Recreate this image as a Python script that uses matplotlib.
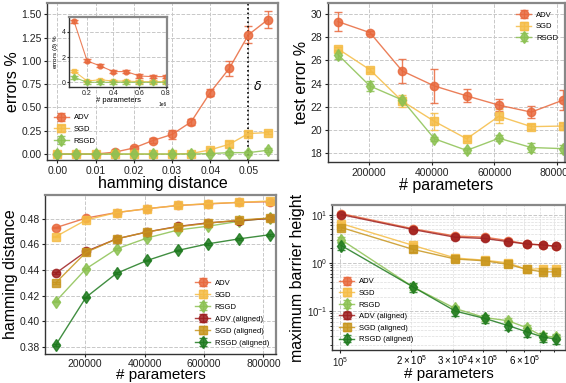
import numpy as np
import matplotlib
matplotlib.use("Agg")
import matplotlib.pyplot as plt

plt.rcParams['font.family'] = ['Liberation Sans', 'DejaVu Sans']

# --- data ---------------------------------------------------------------
hamming = [0.0, 0.005, 0.010, 0.015, 0.020, 0.025, 0.030, 0.035, 0.040, 0.045, 0.050, 0.055]
delta_x = 0.050

err_adv = [0, 0, 0, 0.02, 0.065, 0.145, 0.21, 0.345, 0.66, 0.92, 1.28, 1.44]
err_adv_sd = [0.01, 0.01, 0.01, 0.02, 0.02, 0.03, 0.05, 0.03, 0.04, 0.08, 0.09, 0.09]
err_sgd = [0, 0, 0, 0, 0, 0, 0, 0.005, 0.045, 0.105, 0.22, 0.23]
err_sgd_sd = [0.01, 0.01, 0.01, 0.01, 0.01, 0.01, 0.01, 0.01, 0.02, 0.03, 0.03, 0.02]
err_rsgd = [0, 0, 0, 0, 0, 0, 0, 0, 0.005, 0.015, 0.015, 0.04]
err_rsgd_sd = [0.01, 0.01, 0.01, 0.01, 0.01, 0.01, 0.01, 0.01, 0.01, 0.02, 0.02, 0.02]

# inset: errors at delta vs # parameters (x 1e6)
inset_params = [0.1, 0.2, 0.3, 0.4, 0.5, 0.6, 0.7, 0.8]
inset_adv = [4.85, 1.7, 1.3, 0.85, 0.85, 0.5, 0.45, 0.45]
inset_sgd = [0.9, 0.1, 0.2, 0.1, 0.1, 0.05, 0.05, 0.05]
inset_rsgd = [0.4, 0.0, 0.0, 0.0, 0.0, 0.0, 0.0, 0.0]

params = [101000, 203000, 306000, 409000, 512000, 615000, 718000, 821000]

test_adv = [29.35, 28.4, 25.1, 23.8, 22.95, 22.15, 21.55, 22.6]
test_adv_sd = [0.85, 0.1, 1.05, 1.5, 0.55, 0.5, 0.5, 0.85]
test_sgd = [27.0, 25.2, 22.5, 20.75, 19.25, 21.2, 20.3, 20.35]
test_sgd_sd = [0.2, 0.15, 0.5, 0.7, 0.2, 0.6, 0.2, 0.3]
test_rsgd = [26.5, 23.8, 22.6, 19.25, 18.25, 19.3, 18.5, 18.4]
test_rsgd_sd = [0.4, 0.45, 0.25, 0.15, 0.25, 0.25, 0.4, 0.35]

ham_adv = [0.473, 0.4805, 0.4848, 0.4878, 0.4903, 0.4915, 0.4927, 0.4932]
ham_sgd = [0.466, 0.4790, 0.4848, 0.4878, 0.4903, 0.4918, 0.4927, 0.4938]
ham_rsgd = [0.4155, 0.441, 0.4565, 0.465, 0.4712, 0.4742, 0.478, 0.4805]
ham_adv_al = [0.4375, 0.4545, 0.4643, 0.4697, 0.474, 0.4768, 0.4785, 0.4802]
ham_sgd_al = [0.430, 0.4538, 0.4643, 0.4697, 0.4737, 0.4765, 0.479, 0.4805]
ham_rsgd_al = [0.3815, 0.4188, 0.4375, 0.4475, 0.4553, 0.4605, 0.4643, 0.4675]

bar_adv = [10.5, 5.1, 3.6, 3.4, 2.9, 2.45, 2.35, 2.2]
bar_sgd = [6.5, 2.3, 1.26, 1.13, 1.0, 0.73, 0.76, 0.73]
bar_rsgd = [3.0, 0.316, 0.113, 0.073, 0.063, 0.045, 0.030, 0.029]
bar_adv_al = [10.0, 4.9, 3.4, 3.2, 2.75, 2.45, 2.35, 2.2]
bar_sgd_al = [5.4, 1.9, 1.2, 1.1, 0.93, 0.73, 0.65, 0.65]
bar_rsgd_al = [2.28, 0.316, 0.10, 0.07, 0.05, 0.037, 0.029, 0.026]

C_ADV, C_SGD, C_RSGD = '#E8693D', '#F5BC45', '#8CC152'
C_ADV_AL, C_SGD_AL, C_RSGD_AL = '#9E1F1F', '#C8961E', '#1F7A1F'


def style_axes(ax, minor=False):
    ax.grid(True, which='major', linestyle='--', color='#c8c8c8', linewidth=0.7)
    if minor:
        ax.grid(True, which='minor', linestyle='--', color='#dddddd', linewidth=0.5)
    for side in ['left', 'bottom']:
        ax.spines[side].set_color('#333333')
        ax.spines[side].set_linewidth(1.0)
    for side in ['top', 'right']:
        ax.spines[side].set_color('#888888')
        ax.spines[side].set_linewidth(1.6)
    ax.tick_params(labelsize=7.5, length=2.5, width=0.8, pad=1.5, colors='#222222')
    ax.set_axisbelow(True)


def eplot(ax, x, y, yerr, color, marker, label, ms=6, lw=1.0, alpha=0.85):
    ax.errorbar(x, y, yerr=yerr, color=color, marker=marker, markersize=ms,
                linewidth=lw, capsize=3, elinewidth=1.0, capthick=1.0,
                alpha=alpha, label=label)


LEG = dict(frameon=False, fontsize=5.5, handlelength=2.0, handletextpad=0.6)

fig = plt.figure(figsize=(5.66, 3.83), dpi=100)

# --- top left: errors vs hamming distance ---------------------------------
ax1 = fig.add_axes([0.083, 0.582, 0.408, 0.410])
eplot(ax1, hamming, err_adv, err_adv_sd, C_ADV, 'o', 'ADV')
eplot(ax1, hamming, err_sgd, err_sgd_sd, C_SGD, 's', 'SGD')
eplot(ax1, hamming, err_rsgd, err_rsgd_sd, C_RSGD, 'd', 'RSGD')
ax1.axvline(delta_x, color='black', linestyle=':', linewidth=1.2)
ax1.text(delta_x + 0.0024, 0.73, r'$\delta$', fontsize=9, ha='center', va='center')
ax1.set_xlim(-0.0027, 0.0577)
ax1.set_ylim(-0.065, 1.62)
ax1.set_xticks([0.00, 0.01, 0.02, 0.03, 0.04, 0.05])
ax1.set_yticks([0.0, 0.25, 0.5, 0.75, 1.0, 1.25, 1.5])
ax1.set_yticklabels(['0.00', '0.25', '0.50', '0.75', '1.00', '1.25', '1.50'])
ax1.set_xticklabels(['0.00', '0.01', '0.02', '0.03', '0.04', '0.05'])
ax1.set_xlabel('hamming distance', fontsize=11.5, labelpad=0)
ax1.set_ylabel('errors %', fontsize=11.5, labelpad=1)
style_axes(ax1)
ax1.legend(loc='lower left', bbox_to_anchor=(0.0, 0.055), labelspacing=0.55, **LEG)

# inset
axin = fig.add_axes([0.122, 0.773, 0.173, 0.183])
eplot(axin, inset_params, inset_adv, [0.12] * 8, C_ADV, 'o', 'ADV', ms=3.5, lw=0.8)
eplot(axin, inset_params, inset_sgd, [0.1] * 8, C_SGD, 's', 'SGD', ms=3.5, lw=0.8)
eplot(axin, inset_params, inset_rsgd, [0.1] * 8, C_RSGD, 'd', 'RSGD', ms=3.5, lw=0.8)
axin.set_xlim(0.062, 0.81)
axin.set_ylim(-0.37, 5.2)
axin.set_xticks([0.2, 0.4, 0.6, 0.8])
axin.set_yticks([0, 2, 4])
axin.set_xlabel('# parameters', fontsize=5.5, labelpad=0)
axin.set_ylabel(r'errors ($\delta$) %', fontsize=4.5, labelpad=1)
style_axes(axin)
axin.tick_params(labelsize=5, length=1.5, pad=1)
axin.text(0.81, -1.6, '1e6', fontsize=3.5, ha='right', va='top', transform=axin.transData,
          clip_on=False)

# --- top right: test error vs # parameters ---------------------------------
ax2 = fig.add_axes([0.5795, 0.577, 0.4185, 0.415])
eplot(ax2, params, test_adv, test_adv_sd, C_ADV, 'o', 'ADV')
eplot(ax2, params, test_sgd, test_sgd_sd, C_SGD, 's', 'SGD')
eplot(ax2, params, test_rsgd, test_rsgd_sd, C_RSGD, 'd', 'RSGD')
ax2.set_xlim(69000, 825500)
ax2.set_ylim(17.25, 30.95)
ax2.set_xticks([200000, 400000, 600000, 800000])
ax2.set_xticklabels(['200000', '400000', '600000', '800000'])
ax2.set_yticks([18, 20, 22, 24, 26, 28, 30])
ax2.set_xlabel('# parameters', fontsize=11.5, labelpad=0)
ax2.set_ylabel('test error %', fontsize=11.5, labelpad=1)
style_axes(ax2)
ax2.legend(loc='upper right', bbox_to_anchor=(1.0, 0.99), labelspacing=0.55, **LEG)

# --- bottom left: hamming distance vs # parameters ------------------------
ax3 = fig.add_axes([0.0795, 0.077, 0.408, 0.414])
hs = 0.0006
eplot(ax3, params, ham_adv, [hs] * 8, C_ADV, 'o', 'ADV')
eplot(ax3, params, ham_sgd, [hs] * 8, C_SGD, 's', 'SGD')
eplot(ax3, params, ham_rsgd, [hs] * 8, C_RSGD, 'd', 'RSGD')
eplot(ax3, params, ham_adv_al, [hs] * 8, C_ADV_AL, 'o', 'ADV (aligned)')
eplot(ax3, params, ham_sgd_al, [hs] * 8, C_SGD_AL, 's', 'SGD (aligned)')
eplot(ax3, params, ham_rsgd_al, [hs] * 8, C_RSGD_AL, 'd', 'RSGD (aligned)')
ax3.set_xlim(65000, 842000)
ax3.set_ylim(0.375, 0.4985)
ax3.set_xticks([200000, 400000, 600000, 800000])
ax3.set_xticklabels(['200000', '400000', '600000', '800000'])
ax3.set_yticks([0.38, 0.40, 0.42, 0.44, 0.46, 0.48])
ax3.set_yticklabels(['0.38', '0.40', '0.42', '0.44', '0.46', '0.48'])
ax3.set_xlabel('# parameters', fontsize=11, labelpad=-1)
ax3.set_ylabel('hamming distance', fontsize=11.5, labelpad=1)
style_axes(ax3)
ax3.legend(loc='lower right', bbox_to_anchor=(1.0, 0.0), labelspacing=0.6, **LEG)

# --- bottom right: maximum barrier height (log-log) -----------------------
ax4 = fig.add_axes([0.5866, 0.086, 0.4134, 0.379])
eplot(ax4, params, bar_adv, [v * 0.08 for v in bar_adv], C_ADV, 'o', 'ADV')
eplot(ax4, params, bar_sgd, [v * 0.1 for v in bar_sgd], C_SGD, 's', 'SGD')
eplot(ax4, params, bar_rsgd, [v * 0.15 for v in bar_rsgd], C_RSGD, 'd', 'RSGD')
eplot(ax4, params, bar_adv_al, [v * 0.08 for v in bar_adv_al], C_ADV_AL, 'o', 'ADV (aligned)')
eplot(ax4, params, bar_sgd_al, [v * 0.1 for v in bar_sgd_al], C_SGD_AL, 's', 'SGD (aligned)')
eplot(ax4, params, bar_rsgd_al, [v * 0.2 for v in bar_rsgd_al], C_RSGD_AL, 'd', 'RSGD (aligned)')
ax4.set_xscale('log')
ax4.set_yscale('log')
ax4.set_xlim(92200, 901000)
ax4.set_ylim(0.0155, 15.9)
ax4.set_xlabel('# parameters', fontsize=11, labelpad=-1.5)
ax4.set_ylabel('maximum barrier height', fontsize=11.5, labelpad=1)
style_axes(ax4, minor=True)
ax4.tick_params(which='both', labelsize=7, pad=1)
ax4.tick_params(which='minor', length=1.5)
ax4.legend(loc='lower left', bbox_to_anchor=(0.0, 0.0), labelspacing=0.55, **LEG)

fig.savefig('out.png', dpi=100)
